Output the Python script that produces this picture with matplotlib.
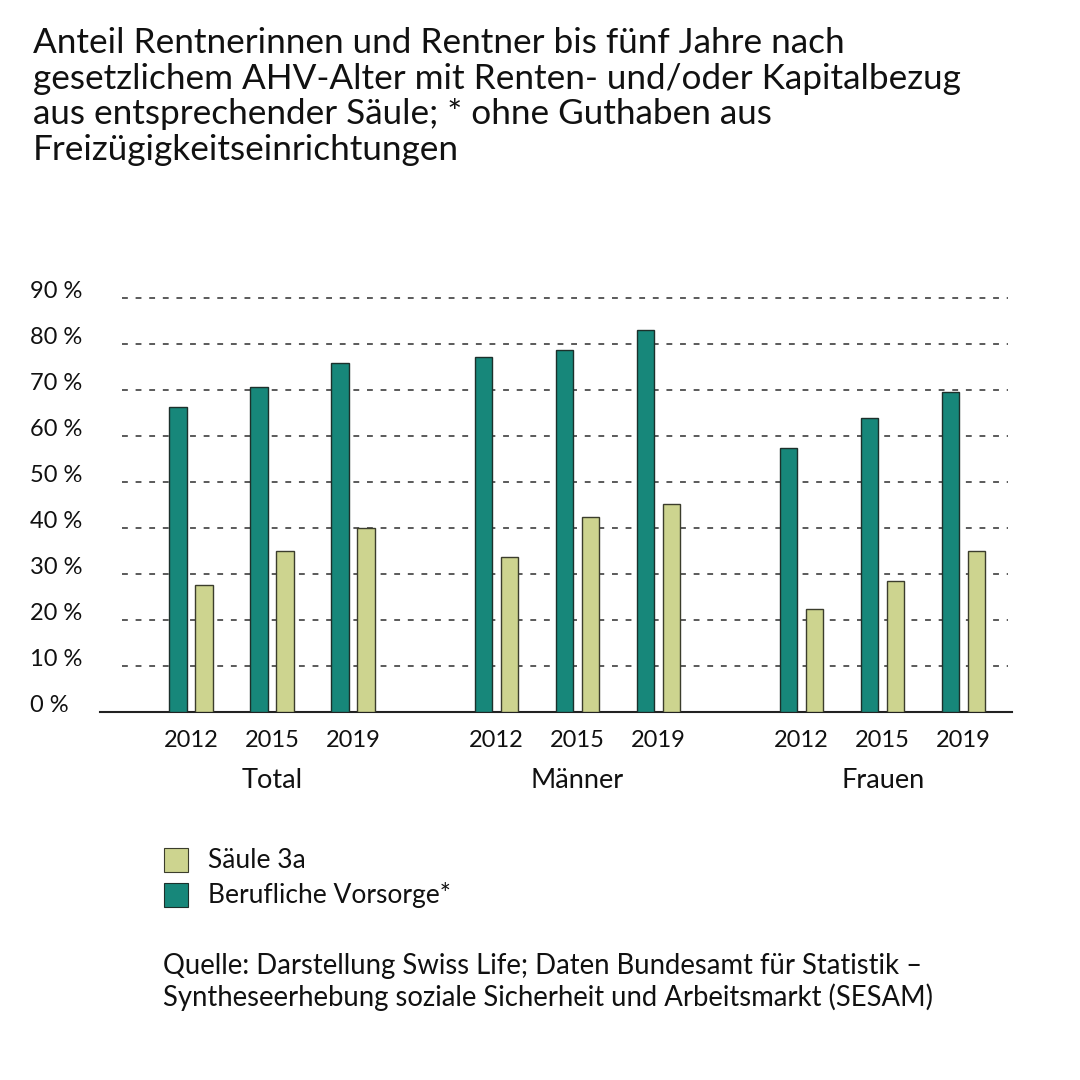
import matplotlib.pyplot as plt
from matplotlib.patches import Rectangle
from matplotlib.transforms import blended_transform_factory

plt.rcParams['font.family'] = ['Lato', 'DejaVu Sans']

# data (percent)
groups = ["Total", "Männer", "Frauen"]
years = ["2012", "2015", "2019"]
bv = [66.3, 70.6, 75.9, 77.0, 78.6, 82.9, 57.4, 63.8, 69.5]      # Berufliche Vorsorge*
s3a = [27.5, 34.9, 40.0, 33.6, 42.4, 45.1, 22.3, 28.5, 34.9]     # Säule 3a
y_ticks = [0, 10, 20, 30, 40, 50, 60, 70, 80, 90]

title = ("Anteil Rentnerinnen und Rentner bis fünf Jahre nach\n"
         "gesetzlichem AHV-Alter mit Renten- und/oder Kapitalbezug\n"
         "aus entsprechender Säule; * ohne Guthaben aus\n"
         "Freizügigkeitseinrichtungen")
source = ("Quelle: Darstellung Swiss Life; Daten Bundesamt für Statistik –\n"
          "Syntheseerhebung soziale Sicherheit und Arbeitsmarkt (SESAM)")

teal = "#17877a"
olive = "#cdd48f"

W = H = 1080
fig = plt.figure(figsize=(10.8, 10.8), dpi=100)
ax = fig.add_axes([100 / W, 1 - 711.7 / H, 912 / W, 414 / H])

group_gap = 0.77
pos = []
for g in range(len(groups)):
    for i in range(len(years)):
        pos.append(g * (len(years) + group_gap) + i)

bw = 0.215
off = 0.16
ax.bar([p - off for p in pos], bv, width=bw, color=teal, edgecolor="#1c302b", linewidth=1.0, zorder=3)
ax.bar([p + off for p in pos], s3a, width=bw, color=olive, edgecolor="#3b3d2c", linewidth=1.0, zorder=3)

ax.set_xlim(-1.123, 10.136)
ax.set_ylim(0, 90)

# dashed gridlines
ax.hlines(y_ticks[1:], -0.85, 10.09, colors="#5a5a5a", linewidth=1.4,
          linestyles=(0, (3, 4)), zorder=1, clip_on=False)

for s in ["top", "right", "left"]:
    ax.spines[s].set_visible(False)
ax.spines["bottom"].set_color("#222222")
ax.spines["bottom"].set_linewidth(1.5)
ax.set_yticks([])
ax.set_xticks(pos)
ax.set_xticklabels(years * len(groups), fontsize=17, color="#111111")
ax.tick_params(axis="x", length=0, pad=13)

# y labels, sitting on the gridlines
tr = blended_transform_factory(fig.transFigure, ax.transData)
for v in y_ticks:
    ax.text(30 / W, v, f"{v} %", transform=tr, fontsize=17, ha="left", va="baseline", color="#111111")

# group labels
trx = blended_transform_factory(ax.transData, fig.transFigure)
for g, name in enumerate(groups):
    ax.text(pos[g * 3 + 1], 1 - 781 / H, name, transform=trx, fontsize=19.5,
            ha="center", va="center", color="#111111")

fig.text(33 / W, 1 - 27 / H, title, fontsize=25.3, ha="left", va="top",
         linespacing=1.14, color="#111111")

# legend
for k, (lab, col, ec) in enumerate([("Säule 3a", olive, "#3b3d2c"),
                                    ("Berufliche Vorsorge*", teal, "#1c302b")]):
    yc = 860 + k * 35
    fig.patches.append(Rectangle((164 / W, 1 - (yc + 12) / H), 24 / W, 24 / H,
                                 transform=fig.transFigure, facecolor=col,
                                 edgecolor=ec, linewidth=0.8))
    fig.text(208 / W, 1 - yc / H, lab, fontsize=19, ha="left", va="center", color="#111111")

fig.text(163 / W, 1 - 953 / H, source, fontsize=19.8, ha="left", va="top",
         linespacing=1.2, color="#111111")

fig.savefig("out.png", dpi=100, facecolor="white")
